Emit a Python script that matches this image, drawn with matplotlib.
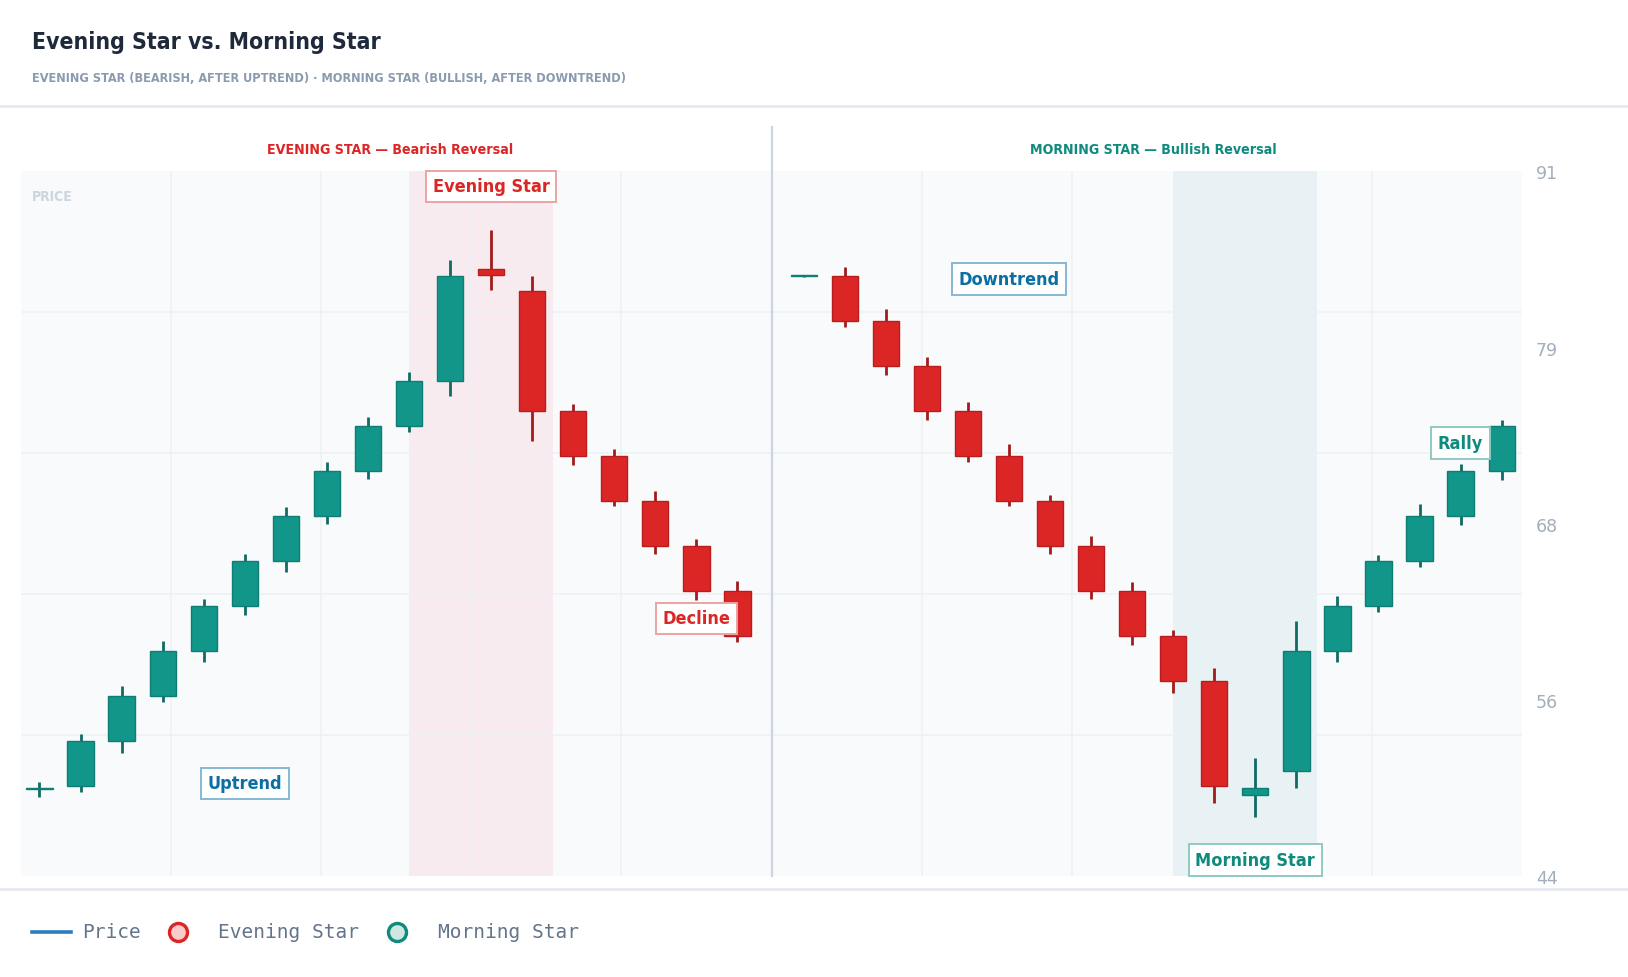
import matplotlib
matplotlib.use("Agg")
import matplotlib.pyplot as plt
import matplotlib.font_manager as fm
from matplotlib.lines import Line2D
from matplotlib.ticker import FixedLocator, NullFormatter
import numpy as np

# ---------------- data ----------------
ev_open  = [49.8, 50.0, 53.0, 56.0, 59.0, 62.0, 65.0, 68.0, 71.0, 74.0, 77.0, 84.5, 83.0, 75.0, 72.0, 69.0, 66.0, 63.0]
ev_close = [49.9, 53.0, 56.0, 59.0, 62.0, 65.0, 68.0, 71.0, 74.0, 77.0, 84.0, 84.1, 75.0, 72.0, 69.0, 66.0, 63.0, 60.0]
ev_high  = [50.3, 53.5, 56.7, 59.7, 62.5, 65.5, 68.6, 71.6, 74.6, 77.6, 85.1, 87.1, 84.0, 75.5, 72.5, 69.7, 66.5, 63.7]
ev_low   = [49.3, 49.6, 52.2, 55.6, 58.3, 61.4, 64.3, 67.5, 70.5, 73.6, 76.0, 83.1, 73.0, 71.4, 68.7, 65.5, 62.4, 59.6]

ms_open  = [84.0, 84.0, 81.0, 78.0, 75.0, 72.0, 69.0, 66.0, 63.0, 60.0, 57.0, 49.4, 51.0, 59.0, 62.0, 65.0, 68.0, 71.0]
ms_close = [84.05, 81.0, 78.0, 75.0, 72.0, 69.0, 66.0, 63.0, 60.0, 57.0, 50.0, 49.9, 59.0, 62.0, 65.0, 68.0, 71.0, 74.0]
ms_high  = [84.1, 84.6, 81.8, 78.6, 75.6, 72.8, 69.4, 66.7, 63.6, 60.4, 57.9, 51.9, 61.0, 62.7, 65.4, 68.8, 71.5, 74.4]
ms_low   = [83.95, 80.6, 77.4, 74.4, 71.6, 68.7, 65.5, 62.5, 59.4, 56.2, 48.9, 47.95, 49.9, 58.3, 61.6, 64.6, 67.4, 70.4]

ev_pattern = (10, 12)
ms_pattern = (10, 12)

ev_labels = [("Uptrend", 5, 50.2, "blue"), ("Evening Star", 11, 90.0, "red"), ("Decline", 16, 61.2, "red")]
ms_labels = [("Downtrend", 5, 83.85, "blue"), ("Morning Star", 11, 45.1, "teal"), ("Rally", 16, 72.9, "teal")]

y_min, y_max = 44, 91
y_tick_values = [44, 55.75, 67.5, 79.25, 91]
y_tick_labels = ["44", "56", "68", "79", "91"]

title = "Evening Star vs. Morning Star"
subtitle = "EVENING STAR (BEARISH, AFTER UPTREND) · MORNING STAR (BULLISH, AFTER DOWNTREND)"
ev_title = "EVENING STAR — Bearish Reversal"
ms_title = "MORNING STAR — Bullish Reversal"
legend_items = ["Price", "Evening Star", "Morning Star"]

# ---------------- style ----------------
TEAL = "#12968a"
TEAL_D = "#0f6b63"
RED = "#dc2626"
RED_D = "#a11b1b"
BLUE = "#0b6fa4"
COLORS = {"red": (RED, "#eba3a3"), "teal": ("#0f8a7e", "#8fcac2"), "blue": (BLUE, "#86b9d3")}

entries = fm.fontManager.ttflist
def has(name, stretches=None):
    for f in entries:
        if f.name == name and (stretches is None or str(f.stretch) in stretches):
            return True
    return False

COND = dict(family="DejaVu Sans")
cond_st = ("condensed", "semi-condensed", "extra-condensed", "ultra-condensed")
if has("Liberation Sans Narrow"):
    COND = dict(family="Liberation Sans Narrow")
elif has("Noto Sans Condensed"):
    COND = dict(family="Noto Sans Condensed")
elif has("DejaVu Sans", cond_st):
    COND = dict(family="DejaVu Sans", stretch="condensed")
elif has("Noto Sans", cond_st):
    COND = dict(family="Noto Sans", stretch="condensed")
elif has("Open Sans", cond_st):
    COND = dict(family="Open Sans", stretch="condensed")

W, H, DPI = 1628, 978, 100
fig = plt.figure(figsize=(W / DPI, H / DPI), dpi=DPI)
fig.patch.set_facecolor("white")

ax_l = 20.8 / W
ax_m = 771.5 / W
ax_r = 1522.2 / W
ax_b = 1 - 877.4 / H
ax_t = 1 - 172.4 / H

axL = fig.add_axes([ax_l, ax_b, ax_m - ax_l, ax_t - ax_b])
axR = fig.add_axes([ax_m, ax_b, ax_r - ax_m, ax_t - ax_b])

xlims = {id(axL): (-0.455, 17.83), id(axR): (-0.784, 17.50)}


def setup(ax):
    ax.set_facecolor("#f8fafc")
    for s in ax.spines.values():
        s.set_visible(False)
    ax.set_ylim(y_min, y_max)
    x0, x1 = xlims[id(ax)]
    ax.set_xlim(x0, x1)
    ax.set_xticks([])
    ax.xaxis.set_minor_locator(FixedLocator(list(np.linspace(x0, x1, 6)[1:-1])))
    ax.xaxis.set_minor_formatter(NullFormatter())
    ax.yaxis.set_major_locator(FixedLocator(y_tick_values))
    grid_vals = list(np.linspace(y_min, y_max, 6)[1:-1])
    ax.yaxis.set_minor_locator(FixedLocator(grid_vals))
    ax.yaxis.set_minor_formatter(NullFormatter())
    ax.tick_params(which="both", length=0)
    ax.grid(which="minor", color="#edf1f5", lw=1.1, zorder=0)
    ax.grid(which="major", visible=False)


def draw_candles(ax, o, h, l, c):
    for i in range(len(o)):
        up = c[i] >= o[i]
        body = TEAL if up else RED
        wick = TEAL_D if up else RED_D
        edge = "#0f7d73" if up else "#b91c1c"
        ax.vlines(i, l[i], h[i], color=wick, lw=2.0, zorder=3)
        lo = min(o[i], c[i])
        hgt = max(abs(c[i] - o[i]), 0.1)
        ax.bar(i, hgt, bottom=lo, width=0.64, color=body, edgecolor=edge, lw=1.0, zorder=4)


def draw_labels(ax, labels):
    for text, xi, yv, key in labels:
        tc, bc = COLORS[key]
        ax.text(xi, yv, text, ha="center", va="center", color=tc, fontsize=13,
                fontweight="bold", zorder=6, **COND,
                bbox=dict(boxstyle="square,pad=0.38", fc="white", ec=bc, lw=1.4))


for ax in (axL, axR):
    setup(ax)

axL.set_yticklabels([])
axR.yaxis.tick_right()
axR.set_yticklabels(y_tick_labels)
axR.tick_params(axis="y", which="major", pad=10, labelsize=12.5, labelcolor="#a3aebb")

axL.axvspan(ev_pattern[0] - 1, ev_pattern[1] + 0.5, color="#f7e8ec", alpha=0.8, zorder=1, lw=0)
axR.axvspan(ms_pattern[0] - 1, ms_pattern[1] + 0.5, color="#e4f1f4", alpha=0.8, zorder=1, lw=0)

draw_candles(axL, ev_open, ev_high, ev_low, ev_close)
draw_candles(axR, ms_open, ms_high, ms_low, ms_close)
draw_labels(axL, ev_labels)
draw_labels(axR, ms_labels)

axL.text(0.015, 0.975, "PRICE", transform=axL.transAxes, ha="left", va="top",
         color="#cdd5df", fontsize=10, fontweight="bold", **COND)

# panel titles
fig.text((ax_l + ax_m) / 2 - 0.004, 1 - 149.5 / H, ev_title, ha="center", va="center",
         color=RED, fontsize=10.2, fontweight="bold", **COND)
fig.text((ax_m + ax_r) / 2 + 0.004, 1 - 149.5 / H, ms_title, ha="center", va="center",
         color="#0f8a7e", fontsize=10.2, fontweight="bold", **COND)

# separator lines
fig.add_artist(Line2D([ax_m, ax_m], [ax_b, 1 - 127.7 / H], color="#cbd5e1", lw=1.6, zorder=10))
fig.add_artist(Line2D([0, 1], [1 - 107 / H] * 2, color="#e2e8f0", lw=1.8))
fig.add_artist(Line2D([0, 1], [1 - 890 / H] * 2, color="#e2e8f0", lw=1.8))

# header
fig.text(32 / W, 1 - 42.5 / H, title, ha="left", va="center", color="#1e293b",
         fontsize=16.5, fontweight="bold", **COND)
fig.text(32 / W, 1 - 79 / H, subtitle, ha="left", va="center", color="#8a9bb0",
         fontsize=9.1, fontweight="bold", **COND)

# legend
ly = 1 - 932.5 / H
fig.add_artist(Line2D([32 / W, 70.5 / W], [ly, ly], color="#2c7cc0", lw=2.6))
fig.text(82 / W, ly, legend_items[0], ha="left", va="center", color="#64748b",
         fontsize=14, family="DejaVu Sans Mono")
fig.add_artist(Line2D([177.5 / W], [ly], marker="o", markersize=13, markerfacecolor="#fbcaca",
                      markeredgecolor=RED, markeredgewidth=2.4, lw=0))
fig.text(218 / W, ly, legend_items[1], ha="left", va="center", color="#64748b",
         fontsize=14, family="DejaVu Sans Mono")
fig.add_artist(Line2D([396.5 / W], [ly], marker="o", markersize=13, markerfacecolor="#cfe7e3",
                      markeredgecolor="#0f8a7e", markeredgewidth=2.4, lw=0))
fig.text(438 / W, ly, legend_items[2], ha="left", va="center", color="#64748b",
         fontsize=14, family="DejaVu Sans Mono")

fig.savefig("out.png", dpi=DPI, facecolor="white")
